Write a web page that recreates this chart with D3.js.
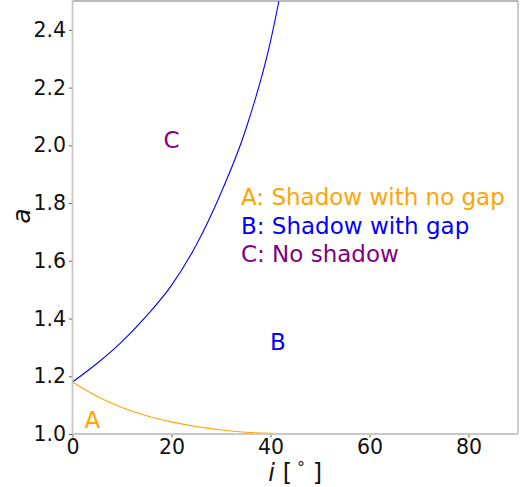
<!DOCTYPE html>
<meta charset="utf-8">
<style>
body { margin: 0; background: #fff; }
text { font-family: "DejaVu Sans", sans-serif; }
</style>
<body>
<div id="chart"></div>
<script src="https://d3js.org/d3.v7.min.js"></script>
<script>

// boundary between B and C (blue)
var bInc = [0, 5, 10, 15, 20, 25, 30, 35, 40, 41.7];
var bA   = [1.18, 1.245, 1.32, 1.41, 1.515, 1.655, 1.835, 2.055, 2.36, 2.5];

// boundary between A and B (orange)
var aInc = [0, 5, 10, 15, 20, 25, 30, 35, 40, 45, 50, 60, 70, 80, 90];
var aA   = [1.18, 1.13, 1.092, 1.063, 1.042, 1.026, 1.014, 1.006, 1.002, 1.0005, 1.0, 1.0, 1.0, 1.0, 1.0];

var xTicks = [0, 20, 40, 60, 80];
var yTicks = [1.0, 1.2, 1.4, 1.6, 1.8, 2.0, 2.2, 2.4];

var regions = [
  {label: "A", i: 4, a: 1.05, color: "orange"},
  {label: "B", i: 41.5, a: 1.32, color: "blue"},
  {label: "C", i: 20, a: 2.02, color: "purple"}
];
var legend = [
  {text: "A: Shadow with no gap", color: "orange"},
  {text: "B: Shadow with gap", color: "blue"},
  {text: "C: No shadow", color: "purple"}
];

var width = 525, height = 487;
var margin = {top: 1, right: 7, bottom: 53, left: 72.5};

var svg = d3.select("#chart").append("svg")
    .attr("width", width)
    .attr("height", height);

var x = d3.scaleLinear().domain([0, 90]).range([margin.left, width - margin.right]);
var y = d3.scaleLinear().domain([1.0, 2.5]).range([height - margin.bottom, margin.top]);

svg.append("clipPath").attr("id", "clip")
  .append("rect")
    .attr("x", x(0)).attr("y", y(2.5))
    .attr("width", x(90) - x(0)).attr("height", y(1.0) - y(2.5));

var line = d3.line()
    .x(d => x(d[0]))
    .y(d => y(d[1]))
    .curve(d3.curveMonotoneX);

svg.append("path")
    .datum(bInc.map((v, k) => [v, bA[k]]))
    .attr("clip-path", "url(#clip)")
    .attr("fill", "none")
    .attr("stroke", "blue")
    .attr("stroke-width", 1.1)
    .attr("d", line);

svg.append("path")
    .datum(aInc.map((v, k) => [v, aA[k]]))
    .attr("clip-path", "url(#clip)")
    .attr("fill", "none")
    .attr("stroke", "orange")
    .attr("stroke-width", 1.1)
    .attr("d", line);

// axes
var xAxis = svg.append("g")
    .attr("transform", "translate(0," + y(1.0) + ")")
    .call(d3.axisBottom(x).tickValues(xTicks).tickSize(3.5).tickPadding(2).tickFormat(d3.format("d")));
var yAxis = svg.append("g")
    .attr("transform", "translate(" + x(0) + ",0)")
    .call(d3.axisLeft(y).tickValues(yTicks).tickSize(3.5).tickPadding(3).tickFormat(d3.format(".1f")));

[xAxis, yAxis].forEach(function(g) {
  g.select(".domain").remove();
  g.selectAll(".tick line").attr("stroke", "#333").attr("stroke-width", 0.8);
  g.selectAll(".tick text")
    .attr("fill", "#111")
    .style("font-size", "20.5px")
    .style("font-family", "'DejaVu Sans', sans-serif");
});

// frame
svg.append("line").attr("x1", x(0)).attr("x2", x(90)).attr("y1", y(2.5)).attr("y2", y(2.5))
    .attr("stroke", "#777").attr("stroke-width", 1);
svg.append("line").attr("x1", x(90)).attr("x2", x(90)).attr("y1", y(2.5)).attr("y2", y(1.0))
    .attr("stroke", "#999").attr("stroke-width", 1);
svg.append("line").attr("x1", x(0)).attr("x2", x(0)).attr("y1", y(2.5)).attr("y2", y(1.0))
    .attr("stroke", "#c8c8c8").attr("stroke-width", 1.8);
svg.append("line").attr("x1", x(0)).attr("x2", x(90)).attr("y1", y(1.0)).attr("y2", y(1.0))
    .attr("stroke", "#c8c8c8").attr("stroke-width", 1.8);

// region letters
svg.selectAll(".region")
  .data(regions)
  .enter().append("text")
    .attr("class", "region")
    .attr("x", d => x(d.i))
    .attr("y", d => y(d.a))
    .attr("text-anchor", "middle")
    .attr("dominant-baseline", "central")
    .attr("fill", d => d.color)
    .style("font-size", "23px")
    .text(d => d.label);

// legend text
svg.selectAll(".legend")
  .data(legend)
  .enter().append("text")
    .attr("class", "legend")
    .attr("x", 241)
    .attr("y", (d, k) => 205 + k * 28.5)
    .attr("fill", d => d.color)
    .style("font-size", "23px")
    .text(d => d.text);

// axis labels
svg.append("text")
    .attr("transform", "translate(30,216) rotate(-90)")
    .attr("text-anchor", "middle")
    .style("font-size", "25px")
    .style("font-style", "italic")
    .attr("fill", "#111")
    .text("a");

var xl = svg.append("text")
    .attr("x", x(45))
    .attr("y", 481)
    .attr("text-anchor", "middle")
    .style("font-size", "24px")
    .attr("fill", "#111");
xl.append("tspan").style("font-style", "italic").text("i");
xl.append("tspan").text(" [");
xl.append("tspan").attr("dy", -8).style("font-size", "16px").text(" °");
xl.append("tspan").attr("dy", 8).text(" ]");

</script>
</body>
